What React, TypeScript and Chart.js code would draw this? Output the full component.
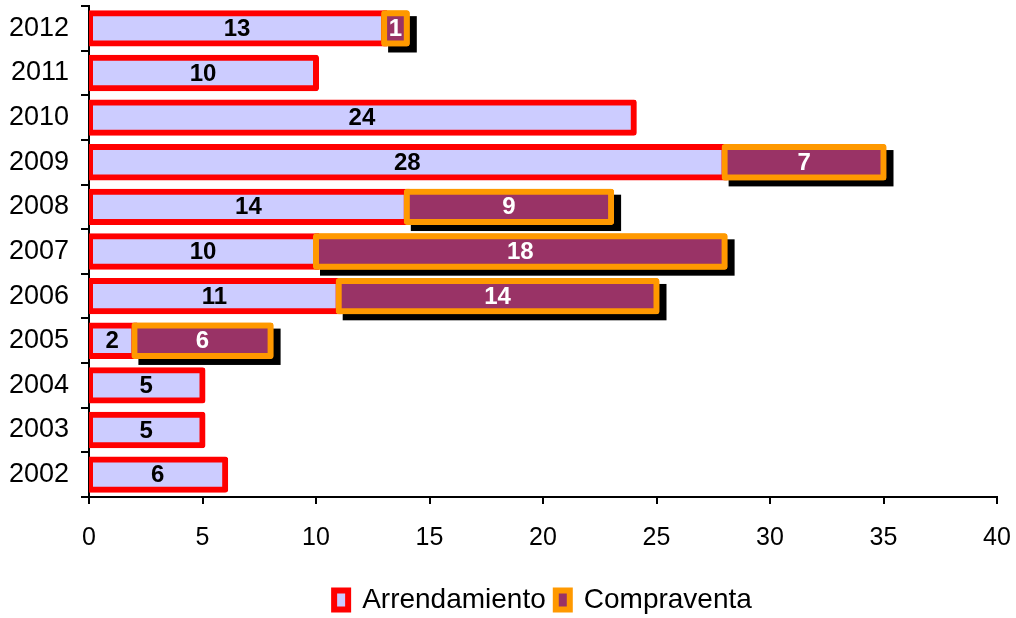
import React, { useEffect, useRef } from "react";
import { Chart, registerables } from "chart.js";

Chart.register(...registerables);

const years = ["2012", "2011", "2010", "2009", "2008", "2007", "2006", "2005", "2004", "2003", "2002"];
const arrendamiento = [13, 10, 24, 28, 14, 10, 11, 2, 5, 5, 6];
const compraventa = [1, null, null, 7, 9, 18, 14, 6, null, null, null];
const seriesNames = ["Arrendamiento", "Compraventa"];
const xMin = 0;
const xMax = 40;
const xStep = 5;

const FONT = "'Liberation Sans', Arial, sans-serif";
const NARROW = "'Liberation Sans Narrow', 'Arial Narrow', 'Liberation Sans', Arial, sans-serif";

const barDecor = {
  id: "barDecor",
  beforeDatasetsDraw(chart: any) {
    const ctx = chart.ctx;
    const meta = chart.getDatasetMeta(1);
    const data = chart.data.datasets[1].data;
    ctx.save();
    ctx.fillStyle = "#000000";
    meta.data.forEach((el: any, i: number) => {
      if (data[i] == null) return;
      const p = el.getProps(["x", "y", "base", "height"], true);
      const left = Math.min(p.x, p.base) - 3;
      const right = Math.max(p.x, p.base) + 3;
      const top = p.y - p.height / 2 - 3;
      const bottom = p.y + p.height / 2 + 3;
      ctx.fillRect(left + 7, top + 6, right - left, bottom - top);
    });
    ctx.restore();
  },
  afterDatasetsDraw(chart: any) {
    const ctx = chart.ctx;
    const meta1 = chart.getDatasetMeta(1);
    const d1 = chart.data.datasets[1].data;
    meta1.data.forEach((el: any, i: number) => {
      if (d1[i] == null) return;
      el.draw(ctx);
    });
    ctx.save();
    ctx.font = `bold 24px ${FONT}`;
    ctx.textAlign = "center";
    ctx.textBaseline = "middle";
    [0, 1].forEach((di) => {
      const meta = chart.getDatasetMeta(di);
      const data = chart.data.datasets[di].data;
      ctx.fillStyle = di === 0 ? "#000000" : "#FFFFFF";
      meta.data.forEach((el: any, i: number) => {
        const v = data[i];
        if (v == null) return;
        const p = el.getProps(["x", "y", "base"], true);
        ctx.fillText(String(v), (p.x + p.base) / 2, p.y + 1);
      });
    });
    ctx.restore();
  },
};

export default function App() {
  const ref = useRef<HTMLCanvasElement | null>(null);
  useEffect(() => {
    if (!ref.current) return;
    const common = {
      barPercentage: 0.68,
      categoryPercentage: 1,
      borderWidth: 6,
      borderSkipped: false,
      borderRadius: 3,
      inflateAmount: 3,
    };
    const chart = new Chart(ref.current, {
      type: "bar",
      data: {
        labels: years,
        datasets: [
          {
            label: seriesNames[0],
            data: arrendamiento,
            backgroundColor: "#CCCCFF",
            borderColor: "#FF0000",
            ...common,
          },
          {
            label: seriesNames[1],
            data: compraventa,
            backgroundColor: "#993366",
            borderColor: "#FF9900",
            ...common,
          },
        ] as any,
      },
      options: {
        indexAxis: "y",
        animation: false,
        responsive: true,
        maintainAspectRatio: false,
        layout: { padding: { top: 6, right: 0, left: 0, bottom: -6 } },
        plugins: {
          legend: {
            position: "bottom",
            fullSize: false,
            labels: {
              font: { size: 28, family: FONT },
              color: "#000000",
              boxWidth: 14,
              boxHeight: 19,
              padding: 10,
            },
          },
          tooltip: { enabled: false },
        },
        scales: {
          x: {
            stacked: true,
            min: xMin,
            max: xMax,
            afterFit(scale: any) {
              scale.height = 79;
              scale.paddingRight = 19;
              scale.paddingLeft = 0;
            },
            ticks: { stepSize: xStep, font: { size: 25, family: NARROW }, color: "#000000", padding: 19 },
            grid: { drawOnChartArea: false, drawTicks: true, tickLength: 7, color: "#000000", lineWidth: 2 },
            border: { display: true, color: "#000000", width: 2 },
          },
          y: {
            stacked: true,
            afterFit(scale: any) {
              scale.width = 89;
              scale.paddingTop = 0;
              scale.paddingBottom = 0;
            },
            ticks: { font: { size: 27, family: NARROW }, color: "#000000", padding: 12 },
            grid: { drawOnChartArea: false, drawTicks: true, tickLength: 8, color: "#000000", lineWidth: 2, offset: true },
            border: { display: true, color: "#000000", width: 2 },
          },
        },
      } as any,
      plugins: [barDecor],
    });
    return () => chart.destroy();
  }, []);
  return (
    <div style={{ position: "fixed", left: 0, top: 0, width: 1016, height: 618, background: "#ffffff" }}>
      <canvas ref={ref} />
    </div>
  );
}
